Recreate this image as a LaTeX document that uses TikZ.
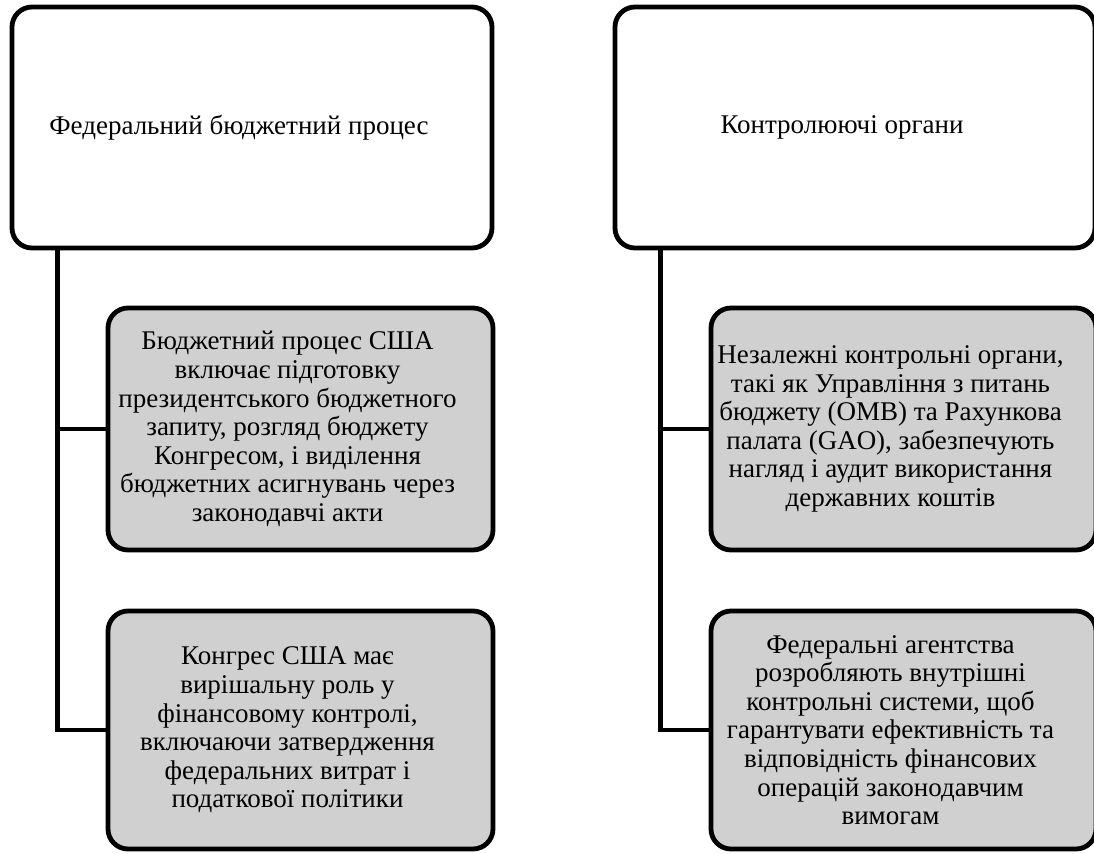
\documentclass[tikz,border=0pt]{standalone}
\usepackage{fontspec}
\setmainfont{Liberation Serif}
\definecolor{boxgray}{HTML}{D0D0D0}
% text block, pulled a little to the left as in the original
\newcommand{\boxtext}[2][180pt]{\hspace*{-13pt}\parbox{#1}{\centering #2}}
\tikzset{
    headbox/.style={draw, line width=2.4pt, rounded corners=10pt, fill=white,
        minimum width=240pt, minimum height=120.5pt, inner sep=0pt},
    itembox/.style={headbox, fill=boxgray, minimum width=192.5pt, minimum height=121pt},
    link/.style={line width=2.4pt}
}
\begin{document}
\begin{tikzpicture}[x=0.5pt,y=-0.5pt,font=\fontsize{13.5pt}{14.3pt}\selectfont]
    \useasboundingbox (0,0) rectangle (1094,853);
    % Left column
    \node[headbox] (fed) at (252,127.5) {\boxtext[220pt]{Федеральний бюджетний процес}};
    \node[itembox] (fedone) at (300.5,429) {\boxtext{Бюджетний процес США\\ включає підготовку\\ президентського бюджетного\\ запиту, розгляд бюджету\\ Конгресом, і виділення\\ бюджетних асигнувань через\\ законодавчі акти}};
    \node[itembox, minimum height=119pt] (fedtwo) at (300.5,730) {\boxtext{Конгрес США має\\ вирішальну роль у\\ фінансовому контролі,\\ включаючи затвердження\\ федеральних витрат і\\ податкової політики}};
    % Right column
    \node[headbox] (ctrl) at (855,127.5) {\boxtext[220pt]{Контролюючі органи}};
    \node[itembox] (ctrlone) at (903.5,429) {\boxtext{Незалежні контрольні органи,\\ такі як Управління з питань\\ бюджету (OMB) та Рахункова\\ палата (GAO), забезпечують\\ нагляд і аудит використання\\ державних коштів}};
    \node[itembox, minimum height=119pt] (ctrltwo) at (903.5,730) {\boxtext{Федеральні агентства\\ розробляють внутрішні\\ контрольні системи, щоб\\ гарантувати ефективність та\\ відповідність фінансових\\ операцій законодавчим\\ вимогам}};
    % Connectors
    \draw[link] ([xshift=24pt]fed.south west) |- (fedone.west);
    \draw[link] ([xshift=24pt]fed.south west) |- (fedtwo.west);
    \draw[link] ([xshift=24pt]ctrl.south west) |- (ctrlone.west);
    \draw[link] ([xshift=24pt]ctrl.south west) |- (ctrltwo.west);
\end{tikzpicture}
\end{document}
